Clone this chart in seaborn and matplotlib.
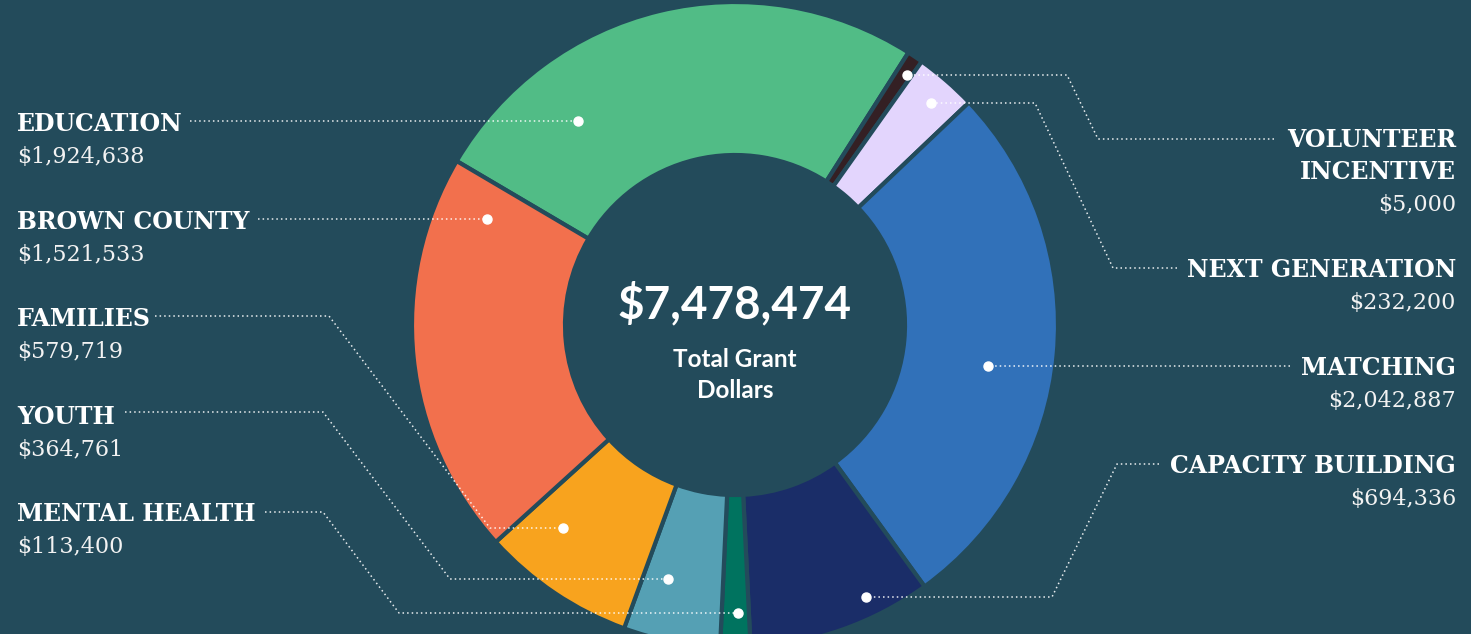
import numpy as np
import pandas as pd
import seaborn as sns
import matplotlib.pyplot as plt

# Grant data (clockwise from the top-left edge of Education)
categories = ['EDUCATION', 'VOLUNTEER\nINCENTIVE', 'NEXT GENERATION', 'MATCHING',
              'CAPACITY BUILDING', 'MENTAL HEALTH', 'YOUTH', 'FAMILIES', 'BROWN COUNTY']
amounts = [1924638, 5000, 232200, 2042887, 694336, 113400, 364761, 579719, 1521533]
slice_colors = ['#51BC86', '#342024', '#E3D5FD', '#3171B9', '#1A2D68',
                '#00735F', '#55A0B4', '#F8A31E', '#F2704D']

df = pd.DataFrame({'category': categories, 'amount': amounts, 'color': slice_colors})
total = df['amount'].sum()
# tiny slices get a minimum visible share, as in the original graphic
df['display'] = np.maximum(df['amount'], total * 0.008)

BG = '#234B5B'
W, H = 1471, 634
CX, CY = 735, 325

sns.set_theme(style='dark', rc={'axes.facecolor': BG, 'figure.facecolor': BG})
palette = sns.color_palette(df['color'].tolist())

fig = plt.figure(figsize=(W / 100, H / 100), dpi=100)
ax = fig.add_axes([0, 0, 1, 1])

ax.pie(df['display'], colors=palette, startangle=149.5, counterclock=False,
       radius=323, center=(CX, H - CY),
       wedgeprops=dict(width=153, edgecolor=BG, linewidth=3))
ax.set_xlim(0, W)
ax.set_ylim(0, H)
ax.set_aspect('equal')
ax.axis('off')

# centre text
ax.text(CX, H - 318, f"${total:,.0f}", ha='center', va='baseline',
        fontsize=33, fontweight='bold', family='Lato', color='white')
ax.text(CX, H - 367, 'Total Grant', ha='center', va='baseline',
        fontsize=17.5, fontweight='bold', family='Lato', color='white')
ax.text(CX, H - 398, 'Dollars', ha='center', va='baseline',
        fontsize=17.5, fontweight='bold', family='Lato', color='white')

# label layout: (x, align, name baselines, value baseline) in pixel coords
label_layout = {
    'EDUCATION': (17, 'left', [131], 163),
    'BROWN COUNTY': (17, 'left', [229], 261),
    'FAMILIES': (17, 'left', [326], 358),
    'YOUTH': (17, 'left', [424], 456),
    'MENTAL HEALTH': (17, 'left', [521], 553),
    'VOLUNTEER\nINCENTIVE': (1456, 'right', [147, 179], 211),
    'NEXT GENERATION': (1456, 'right', [277], 309),
    'MATCHING': (1456, 'right', [375], 407),
    'CAPACITY BUILDING': (1456, 'right', [473], 505),
}
# leader paths, ending at the dot on the slice
leaders = {
    'EDUCATION': [(190, 121), (578, 121)],
    'BROWN COUNTY': [(258, 219), (487, 219)],
    'FAMILIES': [(155, 316), (329, 316), (490, 528), (563, 528)],
    'YOUTH': [(125, 412), (323, 412), (450, 579), (668, 579)],
    'MENTAL HEALTH': [(265, 512), (323, 512), (399, 613), (738, 613)],
    'VOLUNTEER\nINCENTIVE': [(1274, 139), (1098, 139), (1067, 75), (907, 75)],
    'NEXT GENERATION': [(1177, 268), (1113, 268), (1035, 103), (931, 103)],
    'MATCHING': [(1290, 366), (988, 366)],
    'CAPACITY BUILDING': [(1159, 464), (1117, 464), (1052, 597), (866, 597)],
}

for _, row in df.iterrows():
    name = row['category']
    x, ha, name_ys, val_y = label_layout[name]
    for line, y in zip(name.split('\n'), name_ys):
        ax.text(x, H - y, line, ha=ha, va='baseline', fontsize=17,
                fontweight='bold', family='DejaVu Serif', color='white')
    ax.text(x, H - val_y, f"${row['amount']:,.0f}", ha=ha, va='baseline',
            fontsize=16, family='DejaVu Serif', color='#F2F2F2')
    pts = np.array(leaders[name], dtype=float)
    ax.plot(pts[:, 0], H - pts[:, 1], color='white', lw=1.1,
            linestyle=(0, (1, 2)), alpha=0.9)
    ax.plot(pts[-1, 0], H - pts[-1, 1], 'o', color='white', markersize=6.5)

fig.savefig('out.png', dpi=100, facecolor=BG)
